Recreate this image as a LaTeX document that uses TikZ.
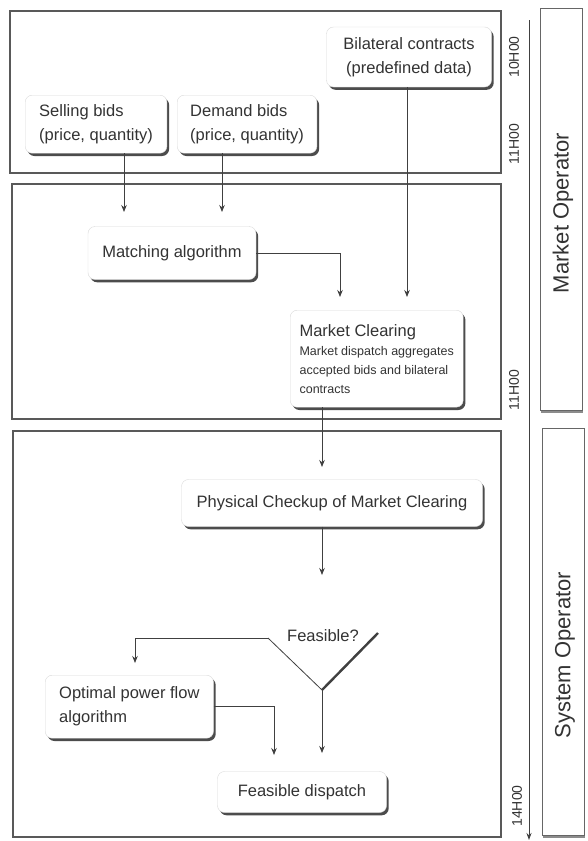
\documentclass[tikz,border=0pt]{standalone}
\usepackage{fontspec}
\setmainfont{Liberation Sans}
\usetikzlibrary{shadows,arrows.meta}
\definecolor{ink}{HTML}{333333}
\begin{document}
\begin{tikzpicture}[x=1pt,y=-1pt,
  panel/.style={draw=black!65,line width=1.2pt},
  opbox/.style={draw=black!60,line width=1pt,fill=white,drop shadow={shadow xshift=1pt,shadow yshift=-2.5pt,fill=black!45,opacity=1}},
  btn/.style={fill=white,draw=black!15,line width=0.4pt,rounded corners=7pt,text=ink,font=\fontsize{16.5}{24}\selectfont,drop shadow={shadow xshift=2.2pt,shadow yshift=-2.8pt,fill=black!70,opacity=1}},
  conn/.style={draw=black!75,line width=0.8pt,-{Stealth[length=7pt,width=5.5pt]}},
  plain/.style={draw=black!75,line width=0.8pt},
  tlabel/.style={rotate=90,text=ink,font=\fontsize{14}{16}\selectfont,inner sep=0pt},
  oplabel/.style={rotate=90,text=ink,font=\fontsize{22}{26}\selectfont,inner sep=0pt}
]
\useasboundingbox[fill=white] (0,0) rectangle (587,841);

% panels
\draw[panel] (10,11) rectangle (501,173);
\draw[panel] (12,184) rectangle (501,419);
\draw[panel] (13,431) rectangle (501,837);

% operator boxes
\draw[opbox] (540,8) rectangle (582,410);
\draw[opbox] (542,428) rectangle (584,835);
\node[oplabel] (mo) at (563,213) {Market Operator};
\node[oplabel] (so) at (565,655) {System Operator};

% timeline
\coordinate (t0) at (529,20);
\coordinate (t1) at (529,840);
\draw[draw=black!75,line width=0.9pt,-{Stealth[length=7pt,width=5pt]}] (t0) -- (t1);
\node[tlabel] (h10) at (514,57) {10H00};
\node[tlabel] (h11a) at (514,144) {11H00};
\node[tlabel] (h11b) at (514,390) {11H00};
\node[tlabel] (h14) at (517,806) {14H00};

% boxes
\node[btn, anchor=north west, align=left, inner xsep=14pt, minimum height=58pt] (sell) at (25,95) {Selling bids\\(price, quantity)};
\node[btn, anchor=north west, align=left, inner xsep=13pt, minimum height=58pt] (dem) at (177,95) {Demand bids\\(price, quantity)};
\node[btn, align=center, minimum width=165pt, minimum height=60pt] (bil) at (409,57) {Bilateral contracts\\(predefined data)};
\node[btn, minimum width=168pt, minimum height=53pt] (match) at (172,253) {Matching algorithm};
\node[btn, anchor=north west, align=left, inner xsep=7pt, minimum width=173pt, minimum height=97pt, font=\fontsize{12.5}{19}\selectfont] (clear) at (290,310) {{\fontsize{16.5}{19}\selectfont Market Clearing}\\Market dispatch aggregates\\accepted bids and bilateral\\contracts};
\node[btn, minimum width=301pt, minimum height=47pt] (check) at (332,503) {Physical Checkup of Market Clearing};
\node[btn, anchor=north west, align=left, inner xsep=14pt, minimum height=63pt] (opf) at (45,675) {Optimal power flow\\algorithm};
\node[btn, minimum width=169pt, minimum height=41pt] (disp) at (302,792) {Feasible dispatch};

% decision
\node[text=ink, font=\fontsize{16.5}{20}\selectfont, inner sep=1pt] (feas) at (323,636) {Feasible?};
\coordinate (fL) at (268,638);
\coordinate (fR) at (378,633);
\coordinate (fB) at (322,690);
\draw[plain] (fL) -- (fB);
\draw[draw=black!75,line width=2.4pt] (fB) -- (fR);

% connectors
\coordinate (s1) at (124,212);
\draw[conn] (sell.south -| s1) -- (s1);
\coordinate (d1) at (222,212);
\draw[conn] (dem.south -| d1) -- (d1);
\coordinate (m1) at (340,297);
\draw[conn] (match.east) -| (m1);
\coordinate (b1) at (407,297);
\draw[conn] (bil.south -| b1) -- (b1);
\coordinate (c1) at (322,467);
\draw[conn] (clear.south -| c1) -- (c1);
\coordinate (c2) at (322,575);
\draw[conn] (check.south -| c2) -- (c2);
\coordinate (o1) at (135,663);
\draw[conn] (fL) -| (o1);
\coordinate (f1) at (322,753);
\draw[conn] (fB) -- (f1);
\coordinate (p1) at (274,755);
\draw[conn] (opf.east) -| (p1);
\end{tikzpicture}
\end{document}
